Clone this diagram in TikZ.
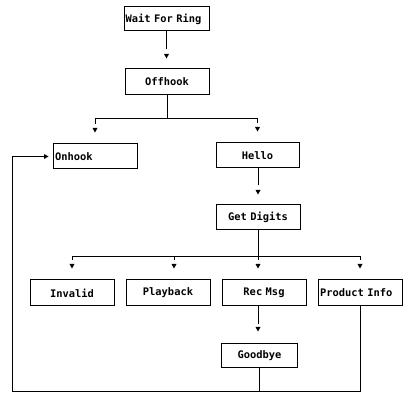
\documentclass[tikz,border=0pt]{standalone}
\usepackage{fontspec}
\newfontfamily\boxfontfam{DejaVu Sans Mono}
\newcommand{\boxfont}{\boxfontfam\bfseries\fontsize{10.4pt}{12pt}\selectfont}
\begin{document}
\begin{tikzpicture}[x=1pt,y=-1pt,
  box/.style={draw, line width=1pt, inner xsep=2pt, inner ysep=0pt,
    minimum height=25pt, text width=80pt, align=center, font=\boxfont},
  lbox/.style={box, align=left},
  conn/.style={line width=1pt, shorten >=19pt},
  plain/.style={line width=1pt},
  tipd/.pic={\fill (0,0) -- (-2.5,-4.5) -- (2.5,-4.5) -- cycle;},
  tipr/.pic={\fill (0,0) -- (-4.5,-2.5) -- (-4.5,2.5) -- cycle;}
]
\useasboundingbox (0,0) rectangle (413,406);

\node[lbox, inner xsep=1.5pt, text width=82pt, minimum height=24pt] (wfr) at (166.5,19) {Wait For Ring};
\node[box, minimum height=26pt] (off) at (167,82) {Offhook};
\node[lbox] (onh) at (95,156.5) {Onhook};
\node[box, text width=79pt] (hel) at (257.5,155.5) {Hello};
\node[box] (gd) at (258,217.5) {Get Digits};
\node[box, minimum height=26pt] (inv) at (72,293) {Invalid};
\node[box, minimum height=26pt] (pb) at (168,293) {Playback};
\node[box, minimum height=26pt] (rec) at (264,293) {Rec Msg};
\node[lbox, minimum height=26pt] (pi) at (360,293) {Product Info};
\node[box, text width=72pt, minimum height=24pt] (gb) at (259.5,356) {Goodbye};
\coordinate (fb) at (12,392);

% Wait For Ring -> Offhook
\draw[conn] (wfr.south) -- (wfr.south |- off.north);
\pic at ([yshift=10pt]wfr.south |- off.north) {tipd};

% Offhook -> Onhook, Hello
\draw[conn] (off.south) -- ++(0,23) -| (onh.north);
\draw[conn] (off.south) -- ++(0,23) -| (hel.north);
\pic at ([yshift=11pt]onh.north) {tipd};
\pic at ([yshift=11pt]hel.north) {tipd};

% Hello -> Get Digits
\draw[conn] (gd.north |- hel.south) -- (gd.north);
\pic at ([yshift=10pt]gd.north) {tipd};

% Get Digits -> four
\draw[conn] (gd.south) -- ++(0,26) -| (inv.north);
\draw[conn] (gd.south) -- ++(0,26) -| ([xshift=6pt]pb.north);
\draw[conn] (gd.south) -- (gd.south |- rec.north);
\draw[conn] (gd.south) -- ++(0,26) -| (pi.north);
\pic at ([yshift=11pt]inv.north) {tipd};
\pic at ([yshift=11pt,xshift=6pt]pb.north) {tipd};
\pic at ([yshift=11pt]gd.south |- rec.north) {tipd};
\pic at ([yshift=11pt]pi.north) {tipd};

% Rec Msg -> Goodbye
\draw[conn] (gd.south |- rec.south) -- (gd.south |- gb.north);
\pic at ([yshift=12pt]gd.south |- gb.north) {tipd};

% Goodbye / Product Info -> Onhook
\draw[plain] (pi.south) |- (gb.south |- fb);
\draw[line width=1pt, shorten >=9pt] (gb.south) -- (gb.south |- fb) -- (fb) |- (onh.west);
\pic at ([xshift=-4pt]onh.west) {tipr};
\end{tikzpicture}
\end{document}
